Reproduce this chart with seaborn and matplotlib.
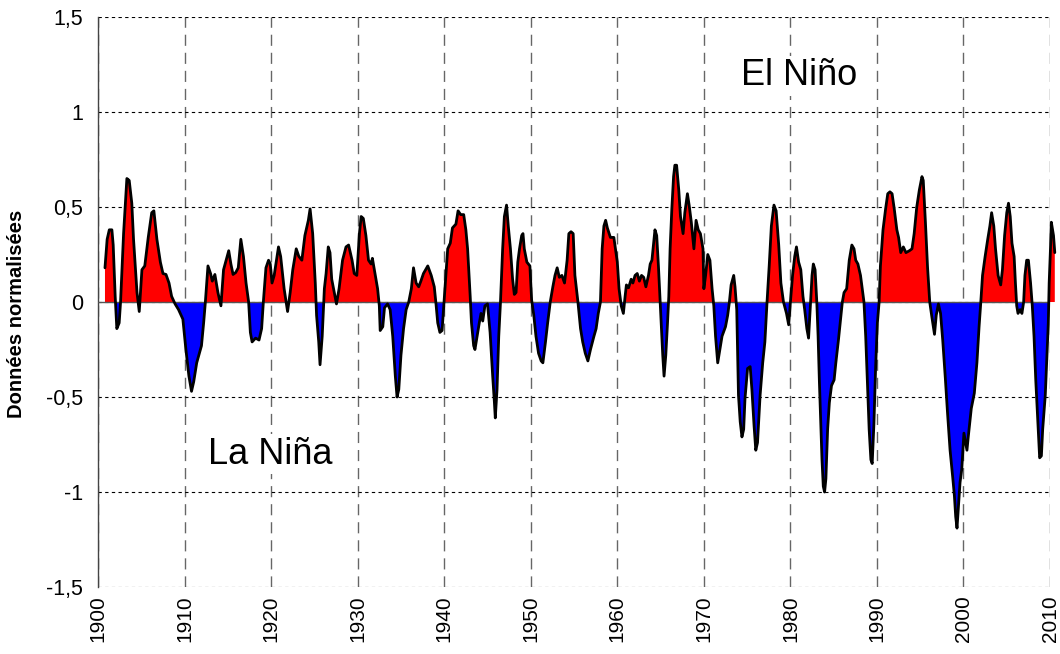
import pandas as pd
import seaborn as sns
import matplotlib.pyplot as plt

# indice ENSO normalisé
annees = [
    1900.8, 1901.05, 1901.3, 1901.6, 1901.75, 1901.98, 1902.17, 1902.44, 1902.6, 1902.95,
    1903.33, 1903.6, 1903.9, 1904.1, 1904.5, 1904.76, 1905.07, 1905.4, 1905.8, 1906.2,
    1906.45, 1906.8, 1907.2, 1907.5, 1907.85, 1908.2, 1908.5, 1908.9, 1909.3, 1909.8,
    1910.15, 1910.5, 1910.8, 1911.05, 1911.4, 1911.95, 1912.2, 1912.4, 1912.7, 1913.0,
    1913.2, 1913.5, 1913.85, 1914.2, 1914.5, 1914.8, 1915.1, 1915.35, 1915.6, 1915.9,
    1916.2, 1916.5, 1916.8, 1917.1, 1917.4, 1917.6, 1917.8, 1918.2, 1918.6, 1918.9,
    1919.1, 1919.4, 1919.7, 1919.9, 1920.1, 1920.35, 1920.85, 1921.1, 1921.5, 1921.9,
    1922.2, 1922.5, 1922.9, 1923.2, 1923.55, 1923.9, 1924.3, 1924.5, 1924.8, 1925.1,
    1925.25, 1925.5, 1925.65, 1925.9, 1926.15, 1926.35, 1926.6, 1926.8, 1927.0, 1927.3,
    1927.55, 1927.85, 1928.25, 1928.65, 1928.95, 1929.35, 1929.6, 1929.9, 1930.2, 1930.4,
    1930.65, 1930.95, 1931.25, 1931.55, 1931.7, 1932.0, 1932.3, 1932.5, 1932.6, 1932.9,
    1933.1, 1933.45, 1933.75, 1934.05, 1934.35, 1934.55, 1934.75, 1935.0, 1935.3, 1935.6,
    1935.9, 1936.2, 1936.45, 1936.75, 1937.05, 1937.3, 1937.6, 1938.1, 1938.5, 1938.85,
    1939.05, 1939.25, 1939.5, 1939.75, 1939.95, 1940.2, 1940.4, 1940.7, 1940.95, 1941.35,
    1941.6, 1941.9, 1942.25, 1942.5, 1942.7, 1943.0, 1943.15, 1943.4, 1943.55, 1943.8,
    1944.05, 1944.25, 1944.45, 1944.7, 1945.0, 1945.3, 1945.6, 1945.8, 1945.9, 1946.1,
    1946.3, 1946.5, 1946.75, 1946.95, 1947.2, 1947.4, 1947.65, 1947.9, 1948.1, 1948.3,
    1948.5, 1948.7, 1948.95, 1949.1, 1949.25, 1949.55, 1949.9, 1950.1, 1950.35, 1950.6,
    1950.9, 1951.2, 1951.4, 1951.7, 1951.95, 1952.25, 1952.55, 1952.8, 1953.05, 1953.3,
    1953.6, 1953.9, 1954.2, 1954.4, 1954.65, 1954.9, 1955.1, 1955.45, 1955.75, 1956.0,
    1956.3, 1956.6, 1956.9, 1957.3, 1957.55, 1957.8, 1958.05, 1958.25, 1958.45, 1958.65,
    1958.85, 1959.2, 1959.6, 1960.0, 1960.2, 1960.45, 1960.7, 1960.9, 1961.05, 1961.3,
    1961.6, 1961.8, 1962.05, 1962.3, 1962.55, 1962.8, 1963.05, 1963.3, 1963.6, 1963.8,
    1964.0, 1964.2, 1964.35, 1964.55, 1964.75, 1964.95, 1965.1, 1965.25, 1965.4, 1965.6,
    1965.8, 1965.95, 1966.1, 1966.3, 1966.5, 1966.65, 1966.85, 1967.1, 1967.3, 1967.6,
    1967.8, 1968.1, 1968.3, 1968.55, 1968.85, 1969.1, 1969.35, 1969.6, 1969.9, 1970.0,
    1970.2, 1970.45, 1970.7, 1970.95, 1971.15, 1971.35, 1971.6, 1971.85, 1972.1, 1972.5,
    1972.75, 1972.95, 1973.15, 1973.45, 1973.6, 1973.8, 1974.0, 1974.2, 1974.4, 1974.6,
    1974.75, 1975.05, 1975.35, 1975.55, 1975.8, 1976.0, 1976.2, 1976.5, 1976.8, 1977.05,
    1977.3, 1977.55, 1977.8, 1978.1, 1978.35, 1978.65, 1978.9, 1979.2, 1979.55, 1979.8,
    1980.0, 1980.25, 1980.5, 1980.7, 1980.95, 1981.2, 1981.45, 1981.65, 1981.9, 1982.1,
    1982.3, 1982.5, 1982.65, 1982.85, 1983.05, 1983.2, 1983.35, 1983.5, 1983.65, 1983.8,
    1983.95, 1984.1, 1984.3, 1984.5, 1984.75, 1985.05, 1985.25, 1985.55, 1985.8, 1986.0,
    1986.2, 1986.5, 1986.8, 1987.1, 1987.35, 1987.55, 1987.8, 1988.1, 1988.3, 1988.5,
    1988.7, 1988.9, 1989.1, 1989.3, 1989.45, 1989.65, 1989.85, 1990.05, 1990.25, 1990.4,
    1990.7, 1991.0, 1991.25, 1991.5, 1991.75, 1992.0, 1992.3, 1992.5, 1992.75, 1993.05,
    1993.35, 1993.75, 1994.05, 1994.3, 1994.6, 1994.9, 1995.2, 1995.35, 1995.6, 1995.85,
    1996.1, 1996.35, 1996.65, 1996.85, 1997.1, 1997.35, 1997.6, 1997.9, 1998.15, 1998.45,
    1998.75, 1998.95, 1999.1, 1999.25, 1999.4, 1999.6, 1999.8, 2000.05, 2000.4, 2000.55,
    2000.9, 2001.25, 2001.55, 2001.8, 2002.0, 2002.2, 2002.5, 2002.8, 2003.05, 2003.25,
    2003.5, 2003.7, 2004.0, 2004.3, 2004.5, 2004.75, 2005.0, 2005.2, 2005.4, 2005.6,
    2005.85, 2006.0, 2006.15, 2006.3, 2006.55, 2006.75, 2006.95, 2007.1, 2007.3, 2007.5,
    2007.75, 2007.95, 2008.15, 2008.35, 2008.6, 2008.8, 2009.0, 2009.15, 2009.45, 2009.65,
    2009.8, 2009.9, 2010.05, 2010.15, 2010.3, 2010.4, 2010.55,
]
valeurs = [
    0.18, 0.33, 0.38, 0.38, 0.30, 0.03, -0.14, -0.11, 0.0, 0.36,
    0.65, 0.64, 0.52, 0.33, 0.05, -0.05, 0.17, 0.19, 0.34, 0.47,
    0.48, 0.33, 0.21, 0.15, 0.145, 0.10, 0.03, -0.01, -0.04, -0.09,
    -0.25, -0.39, -0.47, -0.42, -0.32, -0.23, -0.11, 0.0, 0.19, 0.15,
    0.11, 0.145, 0.05, -0.02, 0.17, 0.22, 0.27, 0.20, 0.145, 0.155,
    0.18, 0.33, 0.24, 0.10, 0.0, -0.16, -0.21, -0.19, -0.20, -0.14,
    0.0, 0.18, 0.22, 0.20, 0.10, 0.14, 0.29, 0.24, 0.07, -0.05,
    0.05, 0.17, 0.28, 0.24, 0.22, 0.35, 0.43, 0.49, 0.36, 0.10,
    -0.07, -0.21, -0.33, -0.18, 0.07, 0.15, 0.29, 0.26, 0.12, 0.05,
    -0.01, 0.07, 0.22, 0.29, 0.30, 0.22, 0.15, 0.14, 0.36, 0.45,
    0.44, 0.35, 0.22, 0.20, 0.23, 0.15, 0.07, -0.02, -0.15, -0.13,
    -0.03, -0.01, -0.04, -0.18, -0.39, -0.50, -0.46, -0.28, -0.14, -0.04,
    0.0, 0.07, 0.18, 0.10, 0.08, 0.11, 0.15, 0.19, 0.14, 0.08,
    -0.01, -0.11, -0.16, -0.15, -0.02, 0.15, 0.28, 0.31, 0.39, 0.41,
    0.48, 0.46, 0.46, 0.38, 0.28, 0.03, -0.11, -0.23, -0.25, -0.18,
    -0.11, -0.06, -0.10, -0.02, -0.01, -0.16, -0.39, -0.53, -0.61, -0.46,
    -0.18, 0.0, 0.28, 0.45, 0.51, 0.40, 0.28, 0.12, 0.04, 0.05,
    0.21, 0.28, 0.35, 0.36, 0.28, 0.21, 0.19, 0.01, -0.07, -0.18,
    -0.27, -0.31, -0.32, -0.21, -0.11, 0.0, 0.08, 0.14, 0.18, 0.13,
    0.14, 0.10, 0.22, 0.36, 0.37, 0.36, 0.14, 0.0, -0.14, -0.21,
    -0.27, -0.31, -0.25, -0.18, -0.14, -0.06, 0.0, 0.28, 0.40, 0.43,
    0.39, 0.34, 0.34, 0.21, 0.07, -0.02, -0.06, 0.03, 0.09, 0.075,
    0.12, 0.10, 0.14, 0.15, 0.11, 0.14, 0.13, 0.08, 0.14, 0.20,
    0.22, 0.31, 0.38, 0.35, 0.19, 0.0, -0.14, -0.28, -0.39, -0.28,
    -0.11, 0.03, 0.28, 0.49, 0.66, 0.72, 0.72, 0.59, 0.45, 0.36,
    0.47, 0.57, 0.51, 0.42, 0.28, 0.43, 0.38, 0.36, 0.28, 0.07,
    0.14, 0.25, 0.22, 0.07, -0.02, -0.18, -0.32, -0.25, -0.18, -0.13,
    -0.07, 0.0, 0.09, 0.14, 0.08, -0.04, -0.49, -0.63, -0.71, -0.67,
    -0.51, -0.35, -0.34, -0.46, -0.65, -0.78, -0.74, -0.49, -0.32, -0.21,
    0.0, 0.19, 0.40, 0.51, 0.48, 0.30, 0.10, 0.0, -0.06, -0.12,
    0.0, 0.14, 0.24, 0.29, 0.21, 0.17, 0.03, -0.04, -0.14, -0.19,
    -0.02, 0.14, 0.20, 0.17, 0.0, -0.18, -0.42, -0.63, -0.83, -0.97,
    -1.00, -0.93, -0.67, -0.53, -0.44, -0.41, -0.32, -0.20, -0.09, 0.0,
    0.05, 0.07, 0.22, 0.30, 0.28, 0.22, 0.20, 0.14, 0.07, 0.0,
    -0.18, -0.42, -0.67, -0.83, -0.85, -0.64, -0.34, -0.11, 0.0, 0.19,
    0.38, 0.49, 0.57, 0.58, 0.57, 0.49, 0.38, 0.34, 0.26, 0.29,
    0.26, 0.27, 0.28, 0.36, 0.50, 0.59, 0.66, 0.64, 0.42, 0.18,
    0.0, -0.08, -0.17, -0.07, -0.01, -0.06, -0.20, -0.40, -0.58, -0.78,
    -0.92, -1.02, -1.13, -1.19, -1.09, -0.95, -0.88, -0.69, -0.78, -0.71,
    -0.56, -0.48, -0.32, -0.13, 0.0, 0.14, 0.24, 0.33, 0.40, 0.47,
    0.40, 0.28, 0.14, 0.09, 0.17, 0.35, 0.47, 0.52, 0.45, 0.31,
    0.24, 0.10, -0.02, -0.06, -0.04, -0.06, 0.0, 0.14, 0.22, 0.22,
    0.10, -0.02, -0.18, -0.41, -0.64, -0.82, -0.81, -0.67, -0.49, -0.28,
    -0.11, 0.10, 0.28, 0.42, 0.38, 0.35, 0.26,
]

xticks = list(range(1900, 2011, 10))
yticks = [-1.5, -1, -0.5, 0, 0.5, 1, 1.5]
ytick_labels = ["-1,5", "-1", "-0,5", "0", "0,5", "1", "1,5"]

df = pd.DataFrame({"annee": annees, "valeur": valeurs})

sns.set_style("white")
plt.rcParams["font.family"] = ["Liberation Sans", "DejaVu Sans"]
plt.rcParams["text.color"] = "black"
plt.rcParams["axes.labelcolor"] = "black"
plt.rcParams["xtick.color"] = "black"
plt.rcParams["ytick.color"] = "black"

fig = plt.figure(figsize=(10.6, 6.54), dpi=100)
ax = fig.add_axes([0.0925, 0.1024, 0.8981, 0.8716])

ax.fill_between(df["annee"], df["valeur"], 0, where=df["valeur"] >= 0,
                interpolate=True, color="#ff0000", lw=0, zorder=2, clip_on=False)
ax.fill_between(df["annee"], df["valeur"], 0, where=df["valeur"] <= 0,
                interpolate=True, color="#0000ff", lw=0, zorder=2, clip_on=False)
sns.lineplot(data=df, x="annee", y="valeur", color="black", lw=2.0, ax=ax, zorder=4)
for l in ax.lines:
    l.set_clip_on(False)
ax.axhline(0, color="#555555", lw=1.0, zorder=3)

ax.set_xlim(1900, 2010)
ax.set_ylim(-1.5, 1.5)
ax.set_xticks(xticks)
ax.set_xticklabels([str(t) for t in xticks], rotation=90, fontsize=15)
ax.set_yticks(yticks)
ax.set_yticklabels(ytick_labels, fontsize=15.5)
ax.tick_params(axis="x", length=0, pad=6, colors="black")
ax.tick_params(axis="y", length=5, width=1, color="#444444", labelcolor="black", pad=6)

ax.grid(axis="y", ls=(0, (3, 3)), color="black", lw=0.8)
ax.grid(axis="x", ls=(0, (8, 5)), color="#666666", lw=1.0)

for s in ["top", "right", "bottom"]:
    ax.spines[s].set_visible(False)
ax.spines["left"].set_color("#444444")
ax.spines["left"].set_linewidth(1.0)

ax.set_xlabel("")
ax.set_ylabel("Données normalisées", fontsize=14.5, fontweight="bold", color="black")
ax.yaxis.set_label_coords(-0.076, 0.48)

ax.text(1981, 1.19, "El Niño", fontsize=26, ha="center", va="center", color="black",
        bbox=dict(facecolor="white", edgecolor="none", pad=2), zorder=5)
ax.text(1919.9, -0.8, "La Niña", fontsize=26, ha="center", va="center", color="black",
        bbox=dict(facecolor="white", edgecolor="none", pad=2), zorder=5)

fig.savefig("out.png", dpi=100)
